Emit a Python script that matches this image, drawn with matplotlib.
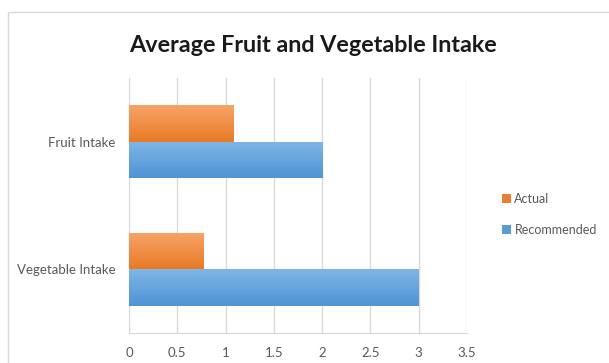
import numpy as np
import matplotlib.pyplot as plt
from matplotlib.patches import Rectangle
from matplotlib.colors import LinearSegmentedColormap

plt.rcParams['font.family'] = ['Lato', 'DejaVu Sans']

categories = ['Vegetable Intake', 'Fruit Intake']
actual = [0.77, 1.08]
recommended = [3, 2]
xticks = [0, 0.5, 1, 1.5, 2, 2.5, 3, 3.5]

fig = plt.figure(figsize=(6.09, 3.63), dpi=100)
fig.patch.set_facecolor('white')

# outer chart frame
fig.add_artist(Rectangle((8 / 609, -0.1), 1.2, (363 - 12) / 363 + 0.1,
                         transform=fig.transFigure, fill=False,
                         edgecolor='#d9d9d9', lw=1))

ax = fig.add_axes([129 / 609, 30 / 363, 338 / 609, 255 / 363])

y = np.arange(len(categories))
h = 0.286
bars_a = ax.barh(y + h / 2, actual, height=h, color='#ed7d31', label='Actual', zorder=3)
bars_r = ax.barh(y - h / 2, recommended, height=h, color='#5b9bd5', label='Recommended', zorder=3)

# vertical gradient fill, lighter at the top of each bar
def shade(bars, top, bottom):
    cmap = LinearSegmentedColormap.from_list('g', [bottom, top])
    grad = np.linspace(0, 1, 64).reshape(-1, 1)
    for b in bars:
        x0, y0 = b.get_x(), b.get_y()
        im = ax.imshow(grad, extent=(x0, x0 + b.get_width(), y0, y0 + b.get_height()),
                       origin='lower', cmap=cmap, aspect='auto', zorder=3.5)
        im.set_clip_path(b)

shade(bars_a, '#f6a468', '#e97a26')
shade(bars_r, '#7fb6e6', '#4f94d4')

ax.set_xlim(0, 3.5)
ax.set_ylim(-0.5, 1.5)
ax.set_xticks(xticks)
ax.set_xticklabels(['0', '0.5', '1', '1.5', '2', '2.5', '3', '3.5'])
ax.set_yticks(y)
ax.set_yticklabels(categories)
ax.tick_params(length=0, labelsize=9.5, colors='#595959')
ax.tick_params(axis='x', pad=10)
ax.tick_params(axis='y', pad=9.5)
ax.grid(axis='x', color='#d9d9d9', lw=1, zorder=0)
for s in ['top', 'right']:
    ax.spines[s].set_visible(False)
for s in ['left', 'bottom']:
    ax.spines[s].set_color('#d9d9d9')

fig.text(313 / 609, 1 - 46 / 363, 'Average Fruit and Vegetable Intake',
         ha='center', va='center', fontsize=16.8, fontweight='bold', color='#1a1a1a')

ax.legend(loc='center left', bbox_to_anchor=(1.07, 0.465), frameon=False,
          fontsize=9, handlelength=0.7, handleheight=0.7, labelspacing=1.5,
          handletextpad=0.3, labelcolor='#595959')

fig.savefig('out.png', dpi=100)
